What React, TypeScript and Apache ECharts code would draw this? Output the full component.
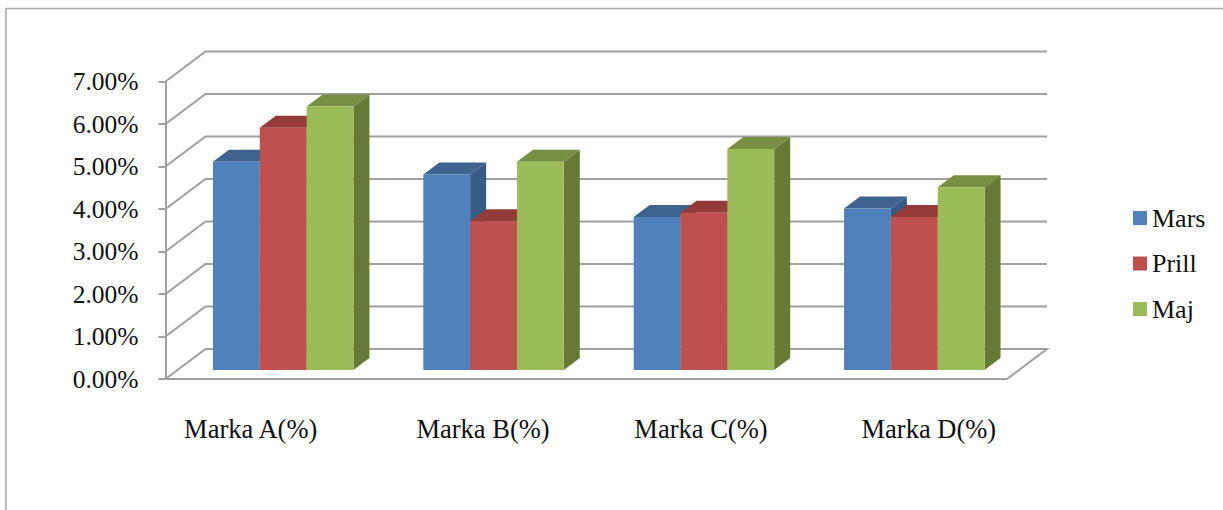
import React, { useEffect, useRef } from "react";
import * as echarts from "echarts";

const categories = ["Marka A(%)", "Marka B(%)", "Marka C(%)", "Marka D(%)"];
const mars = [4.9, 4.6, 3.6, 3.8];
const prill = [5.7, 3.5, 3.7, 3.6];
const maj = [6.2, 4.9, 5.2, 4.3];
const gridTicks = [0, 1, 2, 3, 4, 5, 6, 7];

const seriesNames = ["Mars", "Prill", "Maj"];
const seriesValues = [mars, prill, maj];
const frontColors = ["#4f81bd", "#c0504d", "#9bbb59"];
const topColors = ["#3e638f", "#933b39", "#768f43"];
const sideColors = ["#375b87", "#8a3735", "#667a36"];
const labelPadding = [
  [0, 40, 0, 0],
  [0, 0, 0, 4],
  [0, 0, 0, 19],
  [0, 0, 0, 54],
];

const FONT = '"Liberation Serif", "Times New Roman", serif';
const LINE = "#a0a0a0";
const WALL_DX = 40;
const WALL_DY = -30;
const BASE_DX = 12.5;
const BASE_DY = -9;
const DEPTH_DX = 16;
const DEPTH_DY = -12;
const BAR_RATIO = 46.8 / 210.25;

function renderGridLine(params: any, api: any) {
  const v = api.value(1);
  const cs = params.coordSys;
  const y = api.coord([0, v])[1];
  const l = cs.x;
  const r = cs.x + cs.width;
  const points: number[][] = [
    [l, y],
    [l + WALL_DX, y + WALL_DY],
    [r + WALL_DX, y + WALL_DY],
  ];
  if (v === 0) points.push([r, y]);
  return {
    type: "polyline",
    shape: { points },
    style: { stroke: LINE, lineWidth: 2, fill: "none" },
  };
}

function makeBarRenderer(seriesIndex: number) {
  return (params: any, api: any) => {
    const cat = api.value(0);
    const val = api.value(1);
    const w = api.size([1, 0])[0] * BAR_RATIO;
    const center = api.coord([cat, 0]);
    const top = api.coord([cat, val])[1] + BASE_DY;
    const bottom = center[1] + BASE_DY;
    const x0 = center[0] + BASE_DX + (seriesIndex - 1.5) * w;
    const x1 = x0 + w;
    return {
      type: "group",
      children: [
        {
          type: "polygon",
          shape: {
            points: [
              [x0, top],
              [x0 + DEPTH_DX, top + DEPTH_DY],
              [x1 + DEPTH_DX, top + DEPTH_DY],
              [x1, top],
            ],
          },
          style: { fill: topColors[seriesIndex] },
        },
        {
          type: "polygon",
          shape: {
            points: [
              [x1, top],
              [x1 + DEPTH_DX, top + DEPTH_DY],
              [x1 + DEPTH_DX, bottom + DEPTH_DY],
              [x1, bottom],
            ],
          },
          style: { fill: sideColors[seriesIndex] },
        },
        {
          type: "rect",
          shape: { x: x0, y: top, width: w, height: bottom - top },
          style: { fill: frontColors[seriesIndex] },
        },
      ],
    };
  };
}

export default function App() {
  const ref = useRef<HTMLDivElement>(null);
  useEffect(() => {
    document.body.style.margin = "0";
    const chart = echarts.init(ref.current!, null, { renderer: "svg" });
    chart.setOption({
      animation: false,
      backgroundColor: "#ffffff",
      textStyle: { fontFamily: FONT },
      graphic: [
        {
          type: "rect",
          silent: true,
          shape: { x: 6, y: 8.5, width: 1400, height: 700 },
          style: { fill: "none", stroke: "#a6a6a6", lineWidth: 1.5 },
        },
      ],
      grid: { left: 165.5, right: 216, top: 81.5, height: 297.5 },
      legend: {
        data: seriesNames,
        orient: "vertical",
        left: 1128,
        top: 200,
        icon: "rect",
        itemWidth: 14,
        itemHeight: 14,
        itemGap: 19.5,
        selectedMode: false,
        textStyle: { fontFamily: FONT, fontSize: 26, color: "#111111", lineHeight: 26 },
      },
      xAxis: {
        type: "category",
        data: categories.map((value, i) => ({
          value,
          textStyle: { padding: labelPadding[i] },
        })),
        axisLine: { lineStyle: { color: LINE, width: 2 } },
        axisTick: { show: false },
        axisLabel: { margin: 36, fontFamily: FONT, fontSize: 26.5, color: "#111111", interval: 0 },
      },
      yAxis: {
        type: "value",
        min: 0,
        max: 7,
        interval: 1,
        axisLine: { show: true, lineStyle: { color: LINE, width: 2 } },
        axisTick: { show: true, length: 7, lineStyle: { color: LINE, width: 2 } },
        splitLine: { show: false },
        axisLabel: {
          margin: 27,
          fontFamily: FONT,
          fontSize: 25.5,
          color: "#111111",
          formatter: (v: number) => v.toFixed(2) + "%",
        },
      },
      series: [
        {
          type: "custom",
          name: "walls",
          silent: true,
          renderItem: renderGridLine,
          data: gridTicks.map((t) => [0, t]),
          encode: { x: 0, y: 1 },
          z: 1,
        },
        ...seriesNames.map((name, s) => ({
          type: "custom",
          name,
          silent: true,
          renderItem: makeBarRenderer(s),
          itemStyle: { color: frontColors[s] },
          data: seriesValues[s].map((v, i) => [i, v]),
          encode: { x: 0, y: 1 },
          z: 2 + s,
        })),
      ],
    });
    return () => chart.dispose();
  }, []);
  return <div ref={ref} style={{ width: 1223, height: 510 }} />;
}
